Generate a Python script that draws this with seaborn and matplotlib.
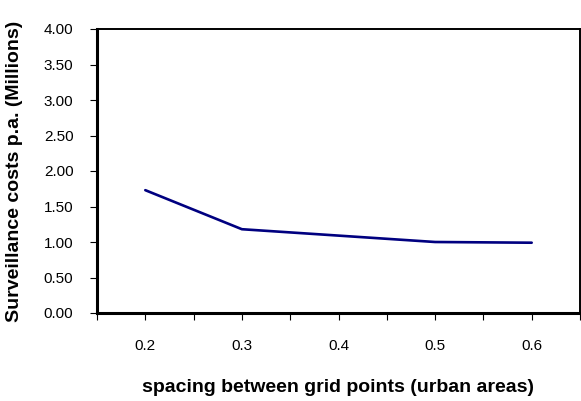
import matplotlib
matplotlib.use("Agg")
import matplotlib.pyplot as plt
import seaborn as sns
import pandas as pd

# data
spacing = ["0.2", "0.3", "0.4", "0.5", "0.6"]
costs = [1.73, 1.18, 1.09, 1.00, 0.99]
yticks = [0.0, 0.5, 1.0, 1.5, 2.0, 2.5, 3.0, 3.5, 4.0]

sns.set_style("white")
plt.rcParams['font.family'] = ['Liberation Sans', 'DejaVu Sans']
plt.rcParams['text.color'] = 'black'
plt.rcParams['axes.labelcolor'] = 'black'
plt.rcParams['xtick.color'] = 'black'
plt.rcParams['ytick.color'] = 'black'

df = pd.DataFrame({"spacing": spacing, "costs": costs})

fig = plt.figure(figsize=(5.81, 4.01), dpi=100)
ax = fig.add_axes([97 / 581, 1 - 313 / 401, 483 / 581, 284 / 401])

sns.lineplot(data=df, x="spacing", y="costs", color="#000080", linewidth=1.9, ax=ax)

ax.set_xlim(-0.5, 4.5)
ax.set_ylim(0, 4)
ax.set_yticks(yticks)
ax.set_yticklabels([f"{v:.2f}" for v in yticks])
ax.set_xticks(range(len(spacing)))
ax.set_xticklabels(spacing)
ax.set_xticks([i + 0.5 for i in range(-1, len(spacing))], minor=True)

ax.tick_params(axis="both", which="both", direction="out", length=5, width=0.8,
               color="black", labelsize=11, labelcolor="black", bottom=True, left=True)
ax.tick_params(axis="x", which="major", pad=14)
ax.tick_params(axis="y", which="major", pad=12)

for side in ["left", "bottom"]:
    ax.spines[side].set_linewidth(2.2)
for side in ["top", "right"]:
    ax.spines[side].set_linewidth(1.4)
for s in ax.spines.values():
    s.set_color("black")

ax.set_xlabel("spacing between grid points (urban areas)", fontsize=14, fontweight="bold", color="black")
ax.set_ylabel("Surveillance costs p.a. (Millions)", fontsize=14, fontweight="bold", color="black")
ax.xaxis.set_label_coords(0.5, -(387 - 313) / 284, transform=ax.transAxes)
ax.yaxis.set_label_coords(-(97 - 15) / 483, 0.5, transform=ax.transAxes)
ax.xaxis.label.set_verticalalignment("center")
ax.yaxis.label.set_verticalalignment("center")

fig.savefig("out.png", dpi=100)
